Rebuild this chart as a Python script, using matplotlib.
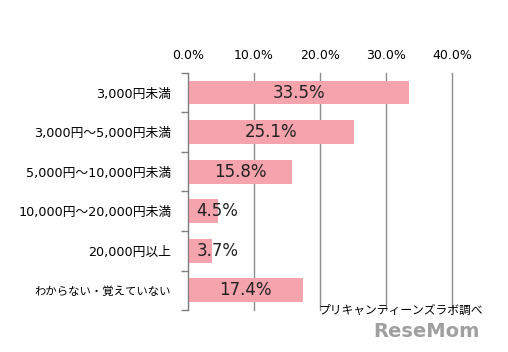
import matplotlib.pyplot as plt

plt.rcParams['font.family'] = ['DejaVu Sans', 'Noto Sans CJK JP']

categories = ['3,000円未満', '3,000円～5,000円未満', '5,000円～10,000円未満',
              '10,000円～20,000円未満', '20,000円以上', 'わからない・覚えていない']
values = [33.5, 25.1, 15.8, 4.5, 3.7, 17.4]
xticks = [0, 10, 20, 30, 40]
source = 'プリキャンティーンズラボ調べ'

fig = plt.figure(figsize=(5.08, 3.52), dpi=100)
ax = fig.add_axes([0.370, 0.119, 0.520, 0.674])

pos = range(len(categories))
ax.barh(pos, values, height=0.6, color='#F5A3AC', zorder=3)

for i, v in enumerate(values):
    if v / 2 < 6.5:
        ax.text(1.3, i, f'{v:.1f}%', ha='left', va='center', fontsize=12, color='#222222', zorder=4)
    else:
        ax.text(v / 2, i, f'{v:.1f}%', ha='center', va='center', fontsize=12, color='#222222', zorder=4)

ax.set_xlim(0, 40)
ax.set_ylim(len(categories) - 0.5, -0.5)
ax.set_xticks(xticks)
ax.set_xticklabels([f'{t:.1f}%' for t in xticks], fontsize=9)
ax.xaxis.tick_top()
ax.tick_params(axis='x', length=0, pad=8)
ax.grid(axis='x', color='#8c8c8c', linewidth=1, zorder=0)
for gl in ax.xaxis.get_gridlines():
    gl.set_clip_on(False)

ax.set_yticks(list(pos))
ax.set_yticklabels(categories, fontsize=9.2)
# the all-kana label is set in a narrower face in the original
ax.get_yticklabels()[-1].set_fontsize(8.2)
ax.tick_params(axis='y', which='major', length=0, pad=12)
ax.set_yticks([i - 0.5 for i in range(len(categories) + 1)], minor=True)
ax.tick_params(axis='y', which='minor', length=5, color='#7f7f7f', width=1)

for s in ['top', 'right', 'bottom']:
    ax.spines[s].set_visible(False)
ax.spines['left'].set_color('#7f7f7f')
ax.spines['left'].set_zorder(5)

fig.text(0.626, 0.118, source, fontsize=8.5, ha='left', va='center')
fig.text(0.945, 0.058, 'ReseMom', fontsize=14, fontweight='bold', color='#a0a0a0',
         ha='right', va='center')

fig.savefig('out.png', dpi=100)
